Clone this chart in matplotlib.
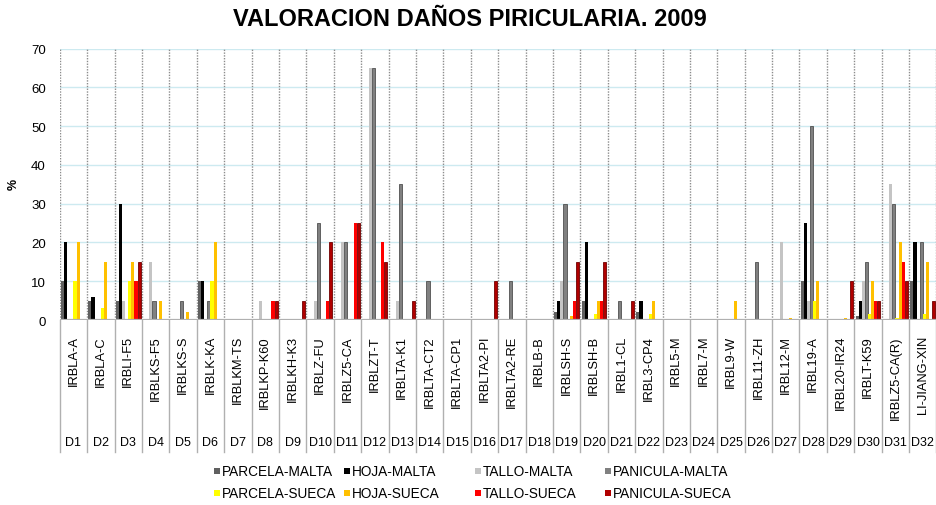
import matplotlib
matplotlib.use("Agg")
import matplotlib.pyplot as plt
from matplotlib.patches import Rectangle
import numpy as np

plt.rcParams['font.family'] = ['Liberation Sans', 'DejaVu Sans']

categories = ["IRBLA-A", "IRBLA-C", "IRBLI-F5", "IRBLKS-F5", "IRBLKS-S", "IRBLK-KA",
              "IRBLKM-TS", "IRBLKP-K60", "IRBLKH-K3", "IRBLZ-FU", "IRBLZ5-CA", "IRBLZT-T",
              "IRBLTA-K1", "IRBLTA-CT2", "IRBLTA-CP1", "IRBLTA2-PI", "IRBLTA2-RE", "IRBLB-B",
              "IRBLSH-S", "IRBLSH-B", "IRBL1-CL", "IRBL3-CP4", "IRBL5-M", "IRBL7-M",
              "IRBL9-W", "IRBL11-ZH", "IRBL12-M", "IRBL19-A", "IRBL20-IR24", "IRBLT-K59",
              "IRBLZ5-CA(R)", "LI-JIANG-XIN"]
codes = ["D%d" % (i + 1) for i in range(32)]

series_names = ["PARCELA-MALTA", "HOJA-MALTA", "TALLO-MALTA", "PANICULA-MALTA",
                "PARCELA-SUECA", "HOJA-SUECA", "TALLO-SUECA", "PANICULA-SUECA"]

parcela_malta = [10, 5, 5, 0, 0, 10, 0, 0, 0, 0, 0, 0, 0, 0, 0.3, 0, 0, 0,
                 2, 5, 0, 2, 0, 0, 0, 0.3, 0.3, 10, 0, 1, 0.3, 10]
hoja_malta = [20, 6, 30, 0, 0, 10, 0, 0, 0, 0, 0, 0, 0, 0, 0, 0, 0, 0,
              5, 20, 0, 5, 0, 0, 0, 0, 0, 25, 0, 5, 0, 20]
tallo_malta = [0, 0, 5, 15, 0, 0, 0, 5, 0, 5, 20, 65, 5, 0, 0, 0, 0, 0,
               10, 0, 0, 0, 0, 0, 0, 0, 20, 5, 0, 10, 35, 0]
panicula_malta = [0, 0, 0, 5, 5, 5, 0, 0, 0, 25, 20, 65, 35, 10, 0, 0, 10, 0,
                  30, 0, 5, 0, 0, 0, 0, 15, 0, 50, 0, 15, 30, 20]
parcela_sueca = [10, 3, 10, 0, 0, 10, 0, 0, 0, 0, 0, 0, 0, 0, 0, 0, 0, 0.3,
                 0, 1.5, 0, 1.5, 0, 0, 0.3, 0, 0, 5, 0, 1.5, 0.5, 1.5]
hoja_sueca = [20, 15, 15, 5, 2, 20, 0, 0, 0, 0, 0, 0, 0, 0, 0.3, 0, 0, 0.3,
              1, 5, 0, 5, 0, 0, 5, 0.3, 0.5, 10, 0.6, 10, 20, 15]
tallo_sueca = [0, 0, 10, 0, 0, 0, 0, 5, 0, 5, 25, 20, 0, 0, 0, 0, 0, 0,
               5, 5, 0, 0, 0, 0, 0, 0, 0, 0, 0, 5, 15, 0]
panicula_sueca = [0, 0, 15, 0, 0, 0, 0, 5, 5, 20, 25, 15, 5, 0, 0, 10, 0, 0,
                  15, 15, 5, 0, 0, 0, 0, 0, 0, 0, 10, 5, 10, 5]

values = [parcela_malta, hoja_malta, tallo_malta, panicula_malta,
          parcela_sueca, hoja_sueca, tallo_sueca, panicula_sueca]
colors = ["#606060", "#000000", "#c4c4c4", "#808080",
          "#ffff00", "#ffc000", "#ff0000", "#b00000"]
edges = [None, None, None, "#505050", None, None, None, "#700000"]

W, H = 936, 506
fig = plt.figure(figsize=(W / 100, H / 100), dpi=100)
left, right, top, bottom = 59.7, 936.5, 49.5, 321.0
ax = fig.add_axes([left / W, 1 - bottom / H, (right - left) / W, (bottom - top) / H])

n = len(categories)
x = np.arange(n)
bw = 0.114
for k, (vals, c, e) in enumerate(zip(values, colors, edges)):
    off = (k - 3.5) * bw
    if e:
        ax.bar(x + off, vals, width=bw, color=c, edgecolor=e, linewidth=0.6, zorder=3)
    else:
        ax.bar(x + off, vals, width=bw, color=c, linewidth=0, zorder=3)

ax.set_xlim(-0.5, n - 0.5)
ax.set_ylim(0, 70)
ax.set_yticks(range(0, 71, 10))
ax.tick_params(axis='y', length=0, labelsize=9.5, pad=10)
ax.set_xticks([])
for s in ax.spines.values():
    s.set_visible(False)

for yv in range(10, 71, 10):
    ax.axhline(yv, color="#cdeaf0", lw=1, zorder=1)

for b in np.arange(-0.5, n, 1.0):
    ax.plot([b, b], [0, 70], color="#8c8c8c", lw=1, ls=(0, (1, 1)), zorder=2)

ax.axhline(0, color="#b0b0b0", lw=1.6, zorder=4)

trans = ax.get_xaxis_transform()
tab_bottom = -(453 - bottom) / (bottom - top)
for b in np.arange(-0.5, n + 0.5, 1.0):
    ax.plot([b, b], [0, tab_bottom], color="#b0b0b0", lw=1, transform=trans,
            clip_on=False, zorder=2)

lab_y = -(336 - bottom) / (bottom - top)
code_y = -(443 - bottom) / (bottom - top)
for i in range(n):
    ax.text(i, lab_y, categories[i], rotation=90, ha='center', va='top',
            fontsize=9.3, transform=trans)
    ax.text(i, code_y, codes[i], ha='center', va='center', fontsize=9,
            transform=trans)

fig.text(14 / W, 1 - 184 / H, "%", rotation=90, ha='center', va='center',
         fontsize=9, fontweight='bold')

fig.text(470 / W, 1 - 19 / H, "VALORACION DAÑOS PIRICULARIA. 2009", ha='center',
         va='center', fontsize=17, fontweight='bold')

leg_x = [217, 347, 478, 608]
leg_y = [472, 494]
sq = 6
for k, (name, c) in enumerate(zip(series_names, colors)):
    cx = leg_x[k % 4]
    cy = leg_y[k // 4]
    fig.patches.append(Rectangle(((cx - sq / 2) / W, 1 - (cy + sq / 2) / H), sq / W, sq / H,
                                 transform=fig.transFigure, facecolor=c,
                                 edgecolor='none'))
    fig.text((cx + 5) / W, 1 - cy / H, name, ha='left', va='center', fontsize=9.8)

fig.savefig("out.png", dpi=100)
